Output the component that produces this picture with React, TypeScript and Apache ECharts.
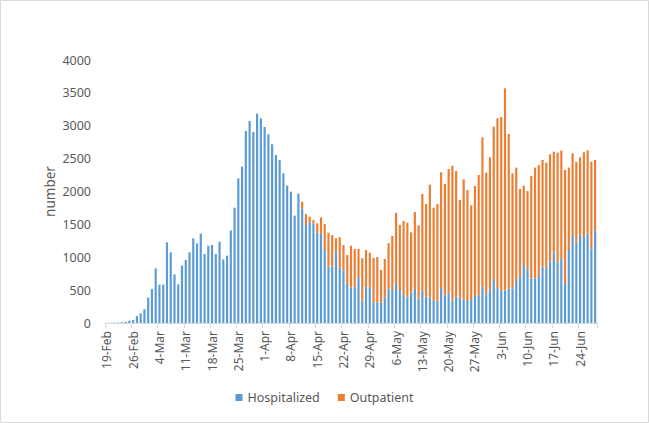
import React, { useEffect, useRef } from "react";
import * as echarts from "echarts";

// Daily totals (hospitalized + outpatient), 19-Feb .. 28-Jun (2020)
const startDate = { year: 2020, month: 1, day: 19 }; // month is 0-based
const dayCount = 131;

const hospitalized: number[] = [
  3, 2, 4, 6, 10, 18, 35, 45, 106, 147, 208, 385, 517, 831, 583, 583, 1227, 1075, 740, 588,
  872, 958, 1075, 1288, 1212, 1359, 1049, 1176, 1186, 1049, 1237, 968, 1024, 1409, 1754, 2200,
  2378, 2920, 3072, 2905, 3184, 3113, 2981, 2870, 2718, 2555, 2479, 2276, 2089, 1998, 1633, 1967,
  1744, 1490, 1531, 1516, 1379, 1353, 1110, 857, 857, 1088, 842, 796, 593, 537, 553, 695, 340,
  553, 537, 314, 314, 314, 390, 522, 502, 593, 502,
  436, 385, 461, 517, 370, 492, 400, 390, 335, 340, 532, 421, 461, 345, 400, 385, 360, 350, 350,
  411, 421, 553, 436, 512, 654, 532,
  497, 492, 527, 527, 639, 720, 897, 816, 679, 679, 715, 857, 842, 938, 1070, 923, 984, 593,
  1110, 1323, 1227, 1344, 1308, 1359, 1136, 1404,
];

const outpatient: number[] = [
  0, 0, 0, 0, 0, 0, 0, 0, 0, 0, 0, 0, 0, 0, 0, 0, 0, 0, 0, 0,
  0, 0, 0, 0, 0, 0, 0, 0, 0, 0, 0, 0, 0, 0, 0, 0,
  0, 0, 0, 0, 0, 0, 0, 0, 0, 0, 0, 0, 0, 0, 0, 0,
  101, 167, 86, 50, 137, 254, 396, 517, 481, 200, 461, 390, 441, 639, 573, 431, 644,
  557, 533, 675, 690, 492, 583, 695, 821, 1085, 989,
  1115, 1141, 918, 1171, 1116, 1470, 1410, 1714, 1419, 1470, 1760, 1693, 1881, 2048, 1912, 1486, 1825, 1673, 1440,
  1673, 1830, 2271, 1851, 2008, 2332, 2581,
  2636, 3077, 2348, 1749, 1724, 1318, 1192, 1192, 1557, 1684, 1688, 1622, 1597, 1627, 1536, 1668, 1637, 1734,
  1253, 1258, 1222, 1176, 1288, 1267, 1318, 1075,
];

const yMax = 4000;
const yInterval = 500;
const seriesNames = ["Hospitalized", "Outpatient"];

const monthNames = ["Jan", "Feb", "Mar", "Apr", "May", "Jun", "Jul", "Aug", "Sep", "Oct", "Nov", "Dec"];

function buildCategories(): string[] {
  const out: string[] = [];
  for (let i = 0; i < dayCount; i++) {
    const d = new Date(Date.UTC(startDate.year, startDate.month, startDate.day + i));
    out.push(`${d.getUTCDate()}-${monthNames[d.getUTCMonth()]}`);
  }
  return out;
}

const FONT = "'Noto Sans', 'Open Sans', sans-serif";
const TEXT = "#595959";

export default function App() {
  const ref = useRef<HTMLDivElement>(null);

  useEffect(() => {
    if (!ref.current) return;
    const chart = echarts.init(ref.current, undefined, { renderer: "svg" });
    const categories = buildCategories();
    chart.setOption({
      animation: false,
      backgroundColor: "#ffffff",
      textStyle: { fontFamily: FONT, color: TEXT },
      graphic: [
        {
          type: "rect",
          shape: { x: 0.5, y: 0.5, width: 648, height: 422 },
          style: { fill: "none", stroke: "#d9d9d9", lineWidth: 1 },
          silent: true,
        },
      ],
      grid: { left: 105, right: 52, top: 60, bottom: 100, containLabel: false },
      legend: {
        data: seriesNames,
        bottom: 14,
        left: "center",
        icon: "rect",
        itemWidth: 7,
        itemHeight: 7,
        itemGap: 18,
        textStyle: { fontFamily: FONT, fontSize: 12.5, color: TEXT },
      },
      xAxis: {
        type: "category",
        data: categories,
        boundaryGap: true,
        axisLine: { lineStyle: { color: "#d9d9d9", width: 1 } },
        axisTick: { show: true, interval: 6, length: 5, lineStyle: { color: "#d9d9d9" } },
        axisLabel: {
          interval: 6,
          rotate: 90,
          margin: 8,
          fontFamily: FONT,
          fontSize: 12,
          color: TEXT,
        },
      },
      yAxis: {
        type: "value",
        min: 0,
        max: yMax,
        interval: yInterval,
        name: "number",
        nameLocation: "middle",
        nameGap: 48,
        nameMoveOverlap: false,
        nameRotate: 90,
        nameTextStyle: { fontFamily: FONT, fontSize: 13.5, color: TEXT },
        axisLine: { show: false },
        axisTick: { show: false },
        splitLine: { show: false },
        axisLabel: {
          fontFamily: FONT,
          fontSize: 12.5,
          color: TEXT,
          margin: 14,
          formatter: (v: number) => String(v),
        },
      },
      series: [
        {
          name: seriesNames[0],
          type: "bar",
          stack: "total",
          data: hospitalized,
          barWidth: "58%",
          itemStyle: { color: "#5B9BD5" },
        },
        {
          name: seriesNames[1],
          type: "bar",
          stack: "total",
          data: outpatient,
          barWidth: "58%",
          itemStyle: { color: "#ED7D31" },
        },
      ],
    });
    return () => chart.dispose();
  }, []);

  return (
    <div
      ref={ref}
      style={{ position: "absolute", left: 0, top: 0, width: 649, height: 423 }}
    />
  );
}
